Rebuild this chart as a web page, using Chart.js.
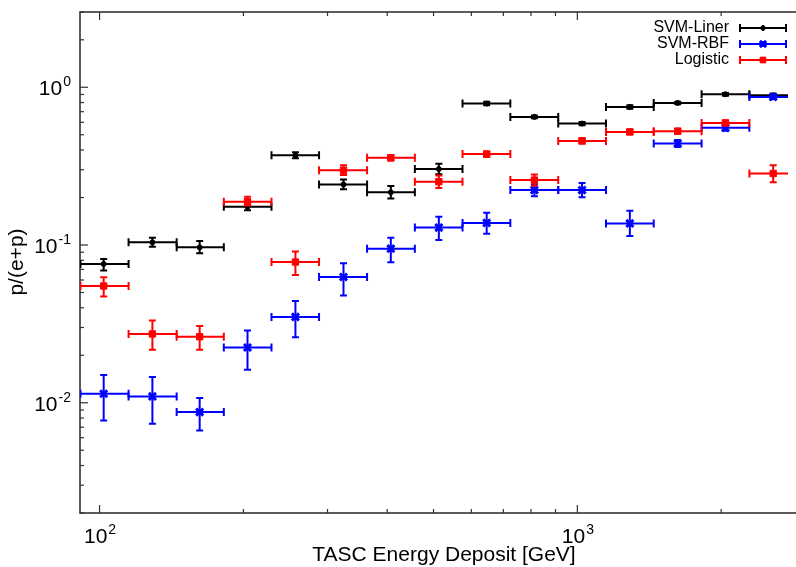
<!DOCTYPE html>
<html>
<head>
<meta charset="utf-8">
<script src="https://cdn.jsdelivr.net/npm/chart.js@4.4.0/dist/chart.umd.min.js"></script>
<style>
  body { margin: 0; background: #fff; }
  #wrap { width: 796px; height: 567px; }
</style>
</head>
<body>
<div id="wrap"><canvas id="myChart" width="796" height="567"></canvas></div>
<script>
// energy bins [GeV]
var binCenter = [102, 129, 162, 204, 257, 324, 407, 513, 646, 813, 1023, 1288, 1622, 2042, 2570];
var binLow    = [91.2, 115, 145, 182, 229, 288, 363, 457, 575, 724, 912, 1148, 1445, 1820, 2291];
var binHigh   = [115, 145, 182, 229, 288, 363, 457, 575, 724, 912, 1148, 1445, 1820, 2291, 2884];

// SVM-Liner
var linerVal = [0.0758, 0.104, 0.0967, 0.175, 0.371, 0.242, 0.216, 0.303, 0.788, 0.649, 0.589, 0.750, 0.796, 0.903, 0.890];
var linerLo  = [0.0688, 0.0975, 0.0886, 0.166, 0.355, 0.226, 0.197, 0.281, 0.770, 0.635, 0.575, 0.730, 0.780, 0.885, 0.870];
var linerHi  = [0.0815, 0.111, 0.106, 0.185, 0.387, 0.260, 0.237, 0.327, 0.810, 0.663, 0.603, 0.770, 0.810, 0.920, 0.910];

// SVM-RBF
var rbfVal = [0.0114, 0.01096, 0.00873, 0.0224, 0.035, 0.0627, 0.0948, 0.129, 0.138, 0.223, 0.223, 0.137, 0.440, 0.553, 0.869];
var rbfLo  = [0.00773, 0.00736, 0.00668, 0.0162, 0.026, 0.0478, 0.0777, 0.1076, 0.118, 0.204, 0.201, 0.114, 0.418, 0.530, 0.840];
var rbfHi  = [0.01497, 0.01454, 0.0107, 0.0287, 0.0442, 0.0766, 0.111, 0.151, 0.160, 0.243, 0.247, 0.165, 0.463, 0.575, 0.900];

// Logistic
var logVal = [0.0550, 0.0273, 0.0262, 0.188, 0.078, 0.298, 0.357, 0.252, 0.377, 0.258, 0.457, 0.521, 0.527, 0.594, 0.284];
var logLo  = [0.0471, 0.0217, 0.0217, 0.178, 0.0646, 0.278, 0.343, 0.230, 0.362, 0.238, 0.440, 0.503, 0.508, 0.574, 0.250];
var logHi  = [0.0624, 0.0332, 0.0307, 0.202, 0.0908, 0.320, 0.372, 0.276, 0.392, 0.280, 0.475, 0.540, 0.546, 0.615, 0.320];

var seriesNames = ["SVM-Liner", "SVM-RBF", "Logistic"];
var seriesColors = ["#000000", "#0000ff", "#ff0000"];
var xTickExp = [2, 3];
var yTickExp = [-2, -1, 0];

var FONT = "'Liberation Sans', Arial, Helvetica, sans-serif";

function points(vals, lo, hi) {
  return binCenter.map(function (x, i) {
    return { x: x, y: vals[i], xMin: binLow[i], xMax: binHigh[i], yMin: lo[i], yMax: hi[i] };
  });
}

function errBar(ctx, xs, ys, d) {
  var px = xs.getPixelForValue(d.x), py = ys.getPixelForValue(d.y);
  var x1 = xs.getPixelForValue(d.xMin), x2 = xs.getPixelForValue(d.xMax);
  var y1 = ys.getPixelForValue(d.yMin), y2 = ys.getPixelForValue(d.yMax);
  ctx.beginPath();
  ctx.moveTo(x1, py); ctx.lineTo(x2, py);
  ctx.moveTo(x1, py - 4); ctx.lineTo(x1, py + 4);
  ctx.moveTo(x2, py - 4); ctx.lineTo(x2, py + 4);
  ctx.moveTo(px, y1); ctx.lineTo(px, y2);
  ctx.moveTo(px - 3.5, y1); ctx.lineTo(px + 3.5, y1);
  ctx.moveTo(px - 3.5, y2); ctx.lineTo(px + 3.5, y2);
  ctx.stroke();
}

function powLabel(ctx, exp, x, y, align) {
  var base = "10", sup = String(exp);
  ctx.font = "21px " + FONT;
  var wb = ctx.measureText(base).width;
  ctx.font = "14px " + FONT;
  var ws = ctx.measureText(sup).width;
  var left = align === "right" ? x - wb - ws : x - (wb + ws) / 2;
  ctx.textAlign = "left";
  ctx.textBaseline = "alphabetic";
  ctx.font = "21px " + FONT;
  ctx.fillText(base, left, y);
  ctx.font = "14px " + FONT;
  ctx.fillText(sup, left + wb + 1, y - 9);
}

var framePlugin = {
  id: "frame",
  beforeDatasetsDraw: function (chart) {
    var ctx = chart.ctx, a = chart.chartArea;
    var xs = chart.scales.x, ys = chart.scales.y;
    ctx.save();
    ctx.strokeStyle = "#333";
    ctx.lineWidth = 1.2;
    // minor / major ticks, inward (right axis is outside the picture)
    var k, m, v, p, len;
    for (k = 1; k <= 3; k++) {
      for (m = 1; m <= 9; m++) {
        v = m * Math.pow(10, k);
        if (v < xs.min || v > xs.max) continue;
        p = xs.getPixelForValue(v);
        len = m === 1 ? 8 : 4;
        ctx.beginPath();
        ctx.moveTo(p, a.bottom); ctx.lineTo(p, a.bottom - len);
        ctx.moveTo(p, a.top); ctx.lineTo(p, a.top + len);
        ctx.stroke();
      }
    }
    for (k = -3; k <= 0; k++) {
      for (m = 1; m <= 9; m++) {
        v = m * Math.pow(10, k);
        if (v < ys.min || v > ys.max) continue;
        p = ys.getPixelForValue(v);
        len = m === 1 ? 8 : 4;
        ctx.beginPath();
        ctx.moveTo(a.left, p); ctx.lineTo(a.left + len, p);
        ctx.stroke();
      }
    }
    ctx.lineWidth = 1.6;
    ctx.strokeRect(a.left, a.top, a.right - a.left + 10, a.bottom - a.top);

    // tick labels
    ctx.fillStyle = "#000";
    xTickExp.forEach(function (e) {
      powLabel(ctx, e, xs.getPixelForValue(Math.pow(10, e)), 543, "center");
    });
    yTickExp.forEach(function (e) {
      powLabel(ctx, e, 70, ys.getPixelForValue(Math.pow(10, e)) + 8, "right");
    });

    // axis titles
    ctx.font = "21px " + FONT;
    ctx.textAlign = "center";
    ctx.textBaseline = "middle";
    ctx.fillText("TASC Energy Deposit [GeV]", 444, 555);
    ctx.translate(17, 262);
    ctx.rotate(-Math.PI / 2);
    ctx.fillText("p/(e+p)", 0, 0);
    ctx.restore();
  },
  beforeDatasetDraw: function (chart, args) {
    var ds = chart.data.datasets[args.index];
    var ctx = chart.ctx, a = chart.chartArea;
    ctx.save();
    ctx.beginPath();
    ctx.rect(a.left, a.top, a.right - a.left, a.bottom - a.top);
    ctx.clip();
    ctx.strokeStyle = ds.borderColor;
    ctx.lineWidth = 2;
    ds.data.forEach(function (d) { errBar(ctx, chart.scales.x, chart.scales.y, d); });
    ctx.restore();
  },
  afterDraw: function (chart) {
    var ctx = chart.ctx;
    ctx.save();
    chart.data.datasets.forEach(function (ds, i) {
      var y = 28 + 16 * i;
      ctx.font = "16px " + FONT;
      ctx.fillStyle = "#000";
      ctx.textAlign = "right";
      ctx.textBaseline = "middle";
      ctx.fillText(ds.label, 729, y);
      ctx.strokeStyle = ds.borderColor;
      ctx.lineWidth = 2;
      ctx.beginPath();
      ctx.moveTo(740, y); ctx.lineTo(786, y);
      ctx.moveTo(740, y - 4); ctx.lineTo(740, y + 4);
      ctx.moveTo(786, y - 4); ctx.lineTo(786, y + 4);
      ctx.moveTo(763, y - 3); ctx.lineTo(763, y + 3);
      ctx.stroke();
      ctx.fillStyle = ds.pointBackgroundColor;
      ctx.lineWidth = ds.pointBorderWidth;
      Chart.helpers.drawPoint(ctx, {
        pointStyle: ds.pointStyle, radius: ds.pointRadius * 0.9, rotation: 0,
        borderWidth: ds.pointBorderWidth
      }, 763, y);
    });
    ctx.restore();
  }
};

new Chart(document.getElementById("myChart"), {
  type: "scatter",
  data: {
    datasets: [{
      label: seriesNames[0],
      data: points(linerVal, linerLo, linerHi),
      borderColor: seriesColors[0],
      backgroundColor: seriesColors[0],
      pointBackgroundColor: seriesColors[0],
      pointStyle: "circle",
      pointRadius: 2.5,
      pointBorderWidth: 1,
      order: 3
    }, {
      label: seriesNames[1],
      data: points(rbfVal, rbfLo, rbfHi),
      borderColor: seriesColors[1],
      backgroundColor: seriesColors[1],
      pointBackgroundColor: seriesColors[1],
      pointStyle: "crossRot",
      pointRadius: 5,
      pointBorderWidth: 3,
      order: 2
    }, {
      label: seriesNames[2],
      data: points(logVal, logLo, logHi),
      borderColor: seriesColors[2],
      backgroundColor: seriesColors[2],
      pointBackgroundColor: seriesColors[2],
      pointStyle: "rect",
      pointRadius: 4.5,
      pointBorderWidth: 1,
      order: 1
    }]
  },
  options: {
    responsive: false,
    animation: false,
    devicePixelRatio: 1,
    layout: { padding: { left: 80, top: 12, right: 0, bottom: 54 } },
    plugins: { legend: { display: false }, tooltip: { enabled: false } },
    scales: {
      x: { type: "logarithmic", min: 91, max: 2760, display: false },
      y: { type: "logarithmic", min: 0.002, max: 3, display: false }
    }
  },
  plugins: [framePlugin]
});
</script>
</body>
</html>
